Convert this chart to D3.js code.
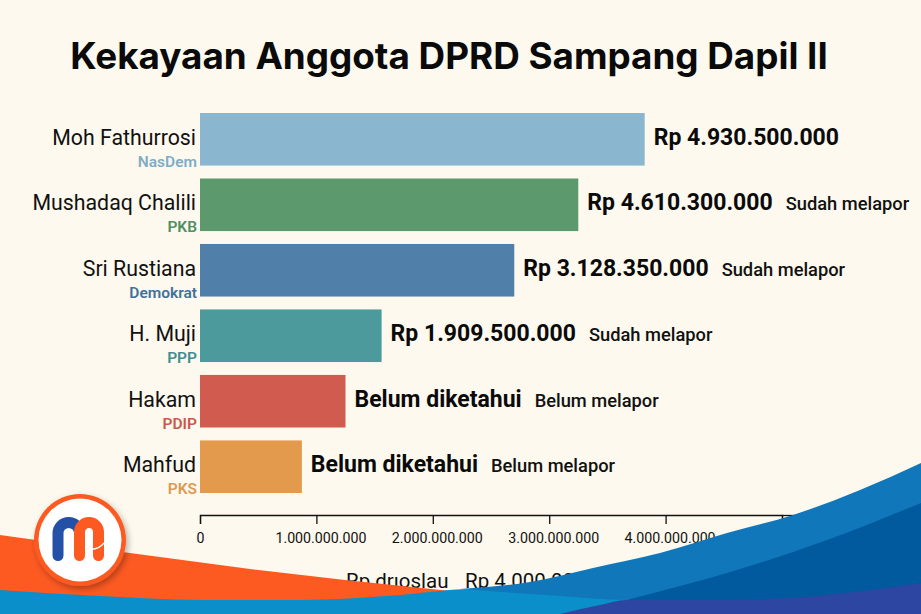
<!DOCTYPE html>
<html><head><meta charset="utf-8">
<script src="https://cdn.jsdelivr.net/npm/d3@7/dist/d3.min.js"></script>
<style>html,body{margin:0;padding:0;background:#fdf9ee;overflow:hidden}svg{display:block}text{font-family:Roboto,sans-serif}</style>
</head><body><svg id="c" width="921" height="614"></svg>
<script>
const titleText = "Kekayaan Anggota DPRD Sampang Dapil II";
const names = ["Moh Fathurrosi","Mushadaq Chalili","Sri Rustiana","H. Muji","Hakam","Mahfud"];
const parties = ["NasDem","PKB","Demokrat","PPP","PDIP","PKS"];
const barValues = [3820000000,3250000000,2700000000,1560000000,1250000000,875000000];
const wealthLabels = ["Rp 4.930.500.000","Rp 4.610.300.000","Rp 3.128.350.000","Rp 1.909.500.000","Belum diketahui","Belum diketahui"];
const statusLabels = ["","Sudah melapor","Sudah melapor","Sudah melapor","Belum melapor","Belum melapor"];
const barColors = ["#8ab6cf","#5c9a6e","#5080a9","#4c9a9c","#d25b4f","#e39a4d"];
const partyColors = ["#7fadc6","#4f8f63","#41729b","#3f8f92","#c9594c","#dc9a52"];
const tickValues = [0,1e9,2e9,3e9,4e9,5e9];
const axisTitleParts = ["Rp drıoslau","Rp 4.000.000"];

const waveOrange = [[0,535],[130,553],[250,569],[345,580],[460,592],[460,614],[0,614]];
const waveCyanTop = [[0,590],[100,596],[200,600],[300,600],[400,595],[470,589],[921,589]];
const waveMidTop = [[460,589],[530,582],[593,568],[660,553],[727,533],[793,515],[860,490],[921,463]];
const waveMidUnder = [[921,600],[627,600],[560,596],[460,589]];
const waveDarkTop = [[627,600],[680,586],[727,573],[827,540],[921,503]];
const waveIndigoTop = [[560,614],[600,605],[627,600],[727,600],[827,595],[921,583]];

const svg = d3.select("#c");
svg.append("rect").attr("width",921).attr("height",614).attr("fill","#fdf9ee");

const x = d3.scaleLinear().domain([0,5e9]).range([200,782]);
const y = d3.scaleBand().domain(names).range([113,493]).paddingInner(0.197).paddingOuter(0);

svg.append("text").attr("x",449).attr("y",69).attr("text-anchor","middle")
  .style("font-family","Inter").attr("font-size",36.8).attr("font-weight",700).attr("fill","#0a0a0a").text(titleText);

svg.selectAll("rect.bar").data(names).join("rect").attr("class","bar")
  .attr("x",x(0)).attr("y",d=>y(d)).attr("height",y.bandwidth())
  .attr("width",(d,i)=>x(barValues[i])-x(0)).attr("fill",(d,i)=>barColors[i]);

svg.selectAll("text.name").data(names).join("text").attr("class","name")
  .attr("x",196).attr("y",d=>y(d)+32).attr("text-anchor","end")
  .attr("font-size",21.3).attr("fill","#111").text(d=>d);

svg.selectAll("text.party").data(names).join("text").attr("class","party")
  .attr("x",197).attr("y",d=>y(d)+54).attr("text-anchor","end")
  .attr("font-size",15.5).attr("font-weight",600).attr("fill",(d,i)=>partyColors[i]).text((d,i)=>parties[i]);

const vals = svg.selectAll("text.val").data(names).join("text").attr("class","val")
  .attr("x",(d,i)=>x(barValues[i])+9).attr("y",d=>y(d)+32)
  .attr("font-size",23).attr("font-weight",700).attr("fill","#0a0a0a").text((d,i)=>wealthLabels[i]);

svg.selectAll("text.status").data(names).join("text").attr("class","status")
  .attr("x",(d,i)=>x(barValues[i])+9+vals.nodes()[i].getComputedTextLength()+13)
  .attr("y",d=>y(d)+32).attr("font-size",18.3).attr("font-weight",500).attr("fill","#111")
  .text((d,i)=>statusLabels[i]);

const axis = svg.append("g").attr("transform","translate(0,515)")
  .call(d3.axisBottom(x).tickValues(tickValues).tickSizeOuter(0).tickSize(9).tickPadding(9)
    .tickFormat(d=>d3.format(",")(d).replace(/,/g,".")));
axis.selectAll("path,line").attr("stroke","#111").attr("stroke-width",1.3);
axis.selectAll("text").style("font-family","Roboto").attr("font-size",14.2).attr("fill","#111")
  .attr("dx",d=>d===0?0:4);
svg.append("line").attr("x1",x(5e9)).attr("x2",x(5e9)+20).attr("y1",515.5).attr("y2",515.5).attr("stroke","#111").attr("stroke-width",1.3);

svg.append("text").attr("x",346).attr("y",588).attr("font-size",20.5).attr("fill","#111").text(axisTitleParts[0]);
svg.append("text").attr("x",465).attr("y",588).attr("font-size",20.5).attr("fill","#111").text(axisTitleParts[1]);

const topLine = d3.line().curve(d3.curveMonotoneX);
function area(top,color){
  const a = d3.area().curve(d3.curveMonotoneX).y0(614).x(d=>d[0]).y1(d=>d[1]);
  svg.append("path").attr("d",a(top)).attr("fill",color);
}
svg.append("path").attr("d",d3.line()(waveOrange)).attr("fill","#fd5a22");
area(waveCyanTop,"#0a8fcb");
svg.append("path").attr("d",topLine(waveMidTop)+"L"+topLine(waveMidUnder).slice(1)+"Z").attr("fill","#1177bb");
area(waveDarkTop,"#025a9e");
area(waveIndigoTop,"#2c46a2");

// logo
const defs = svg.append("defs");
const f = defs.append("filter").attr("id","sh").attr("x","-30%").attr("y","-30%").attr("width","160%").attr("height","160%");
f.append("feDropShadow").attr("dx",2).attr("dy",3).attr("stdDeviation",3).attr("flood-color","#000").attr("flood-opacity",0.3);
const logo = svg.append("g").attr("transform","translate(80,540)");
logo.append("circle").attr("r",46).attr("fill","#fd5a22").attr("filter","url(#sh)");
logo.append("circle").attr("r",41.5).attr("fill","#fff");
logo.append("path").attr("d","M-22,15.5 V-7 A10.75,10.5 0 0 1 -11.25,-17.5 A10.75,10.5 0 0 1 -0.5,-7").attr("fill","none").attr("stroke","#2450a8").attr("stroke-width",11).attr("stroke-linecap","round");
logo.append("path").attr("d","M-0.5,15.5 V-8 A9.5,9.5 0 0 1 9,-17.5 A9.5,9.5 0 0 1 18.5,-8 V15.5").attr("fill","none").attr("stroke","#fd5a22").attr("stroke-width",11).attr("stroke-linecap","round");
logo.append("path").attr("d","M11.7,9.3 Q19,9 24,3").attr("fill","none").attr("stroke","#fff").attr("stroke-width",1.3);
</script></body></html>
